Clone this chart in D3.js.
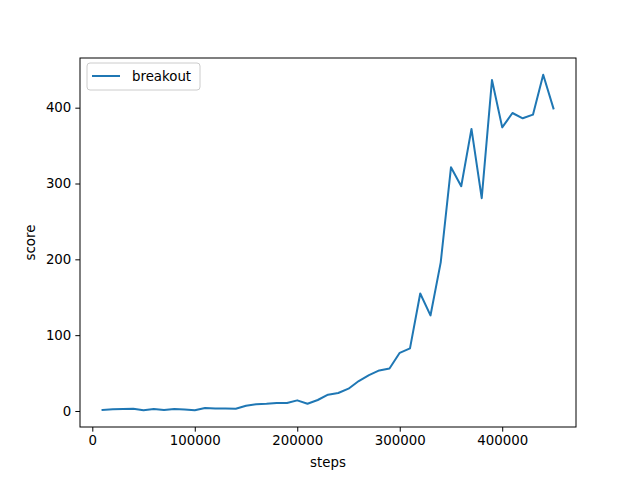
<!DOCTYPE html>
<html>
<head>
<meta charset="utf-8">
<script src="https://cdn.jsdelivr.net/npm/d3@7"></script>
<style>
  body { margin: 0; background: #fff; }
  text { font-family: "DejaVu Sans", sans-serif; }
</style>
</head>
<body>
<svg id="chart" width="640" height="480"></svg>
<script>
// score per evaluation, one every 10000 steps
const steps = d3.range(1, 46).map(i => i * 10000);
const scores = [
  1.3, 2.2, 2.6, 3, 1, 2.5, 1.2, 2.5, 2, 1,
  4, 3.3, 3.2, 3, 7, 9, 9.5, 10.5, 10.5, 14,
  9.6, 14.5, 21.5, 23.7, 29.4, 39.5, 47.4, 53.5, 56, 76.7,
  82.5, 155, 126, 196, 321.4, 296.4, 372, 280.7, 436.4, 374,
  393, 386, 390.8, 443.4, 399
];
const seriesName = 'breakout';
const xTicks = [0, 100000, 200000, 300000, 400000];
const yTicks = [0, 100, 200, 300, 400];

const svg = d3.select('#chart');
// plot area (window.top is taken, so m*)
const mLeft = 80, mRight = 576, mTop = 58, mBottom = 427;

// matplotlib style 5% margins
const xMin = d3.min(steps), xMax = d3.max(steps);
const yMin = d3.min(scores), yMax = d3.max(scores);
const xPad = (xMax - xMin) * 0.05, yPad = (yMax - yMin) * 0.05;

const x = d3.scaleLinear().domain([xMin - xPad, xMax + xPad]).range([mLeft, mRight]);
const y = d3.scaleLinear().domain([yMin - yPad, yMax + yPad]).range([mBottom, mTop]);

const xAxis = svg.append('g')
    .attr('transform', `translate(0,${mBottom})`)
    .call(d3.axisBottom(x).tickValues(xTicks).tickFormat(d3.format('d')).tickSize(4.67).tickPadding(4));
const yAxis = svg.append('g')
    .attr('transform', `translate(${mLeft},0)`)
    .call(d3.axisLeft(y).tickValues(yTicks).tickFormat(d3.format('d')).tickSize(4.67).tickPadding(4));

[xAxis, yAxis].forEach(a => {
    a.select('.domain').remove();
    a.selectAll('line').attr('stroke', '#000').attr('stroke-width', 1);
    a.selectAll('text').attr('font-size', 13.33).attr('fill', '#000')
        .style('font-family', '"DejaVu Sans", sans-serif');
});

// line
const line = d3.line()
    .x((d, i) => x(steps[i]))
    .y(d => y(d));

svg.append('path')
    .datum(scores)
    .attr('d', line)
    .attr('fill', 'none')
    .attr('stroke', '#1f77b4')
    .attr('stroke-width', 2)
    .attr('stroke-linejoin', 'round')
    .attr('stroke-linecap', 'square');

// frame
svg.append('rect')
    .attr('x', mLeft).attr('y', mTop)
    .attr('width', mRight - mLeft).attr('height', mBottom - mTop)
    .attr('fill', 'none').attr('stroke', '#000').attr('stroke-width', 1);

// axis labels
svg.append('text')
    .attr('x', (mLeft + mRight) / 2).attr('y', 467)
    .attr('text-anchor', 'middle').attr('font-size', 13.33)
    .text('steps');
svg.append('text')
    .attr('transform', `translate(35,${(mTop + mBottom) / 2}) rotate(-90)`)
    .attr('text-anchor', 'middle').attr('font-size', 13.33)
    .text('score');

// legend
const lg = svg.append('g').attr('transform', `translate(87,63)`);
lg.append('rect')
    .attr('width', 113).attr('height', 27).attr('rx', 3)
    .attr('fill', '#fff').attr('fill-opacity', 0.8)
    .attr('stroke', '#ccc').attr('stroke-width', 1);
lg.append('line')
    .attr('x1', 5).attr('x2', 33).attr('y1', 13).attr('y2', 13)
    .attr('stroke', '#1f77b4').attr('stroke-width', 2);
lg.append('text')
    .attr('x', 45).attr('y', 18)
    .attr('font-size', 13.33)
    .text(seriesName);
</script>
</body>
</html>
